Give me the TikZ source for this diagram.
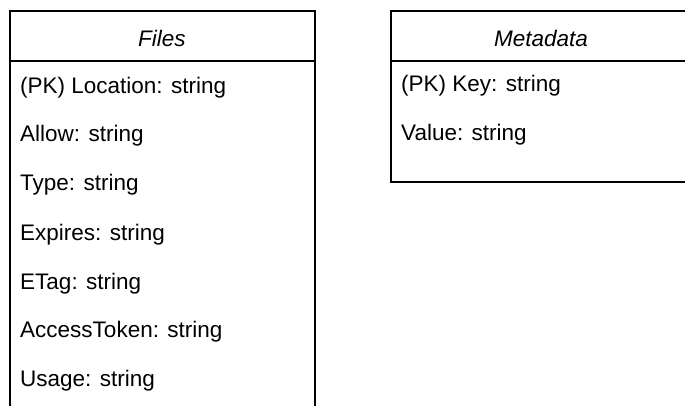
\documentclass[tikz,border=0pt]{standalone}
\usepackage{fontspec}
\setmainfont{Liberation Sans}
\begin{document}
\begin{tikzpicture}[x=1pt,y=-1pt,
  tablebox/.style={draw=black,line width=2pt},
  header/.style={font=\fontsize{22.5}{26}\selectfont\itshape,anchor=center,inner sep=0pt},
  field/.style={font=\fontsize{22.5}{26}\selectfont,anchor=west,inner sep=0pt}]
\useasboundingbox (0,0) rectangle (685,405);
% Files table (continues past the lower edge)
\draw[tablebox] (9.5,430) -- (9.5,11) -- (314.5,11) -- (314.5,430);
\draw[tablebox] (9.5,61) -- (314.5,61);
\node[header] (fh) at (162,38) {Files};
\node[field] (f1) at (20,88) {(PK) Location: string};
\node[field] (f2) at (20,136) {Allow: string};
\node[field] (f3) at (20,185) {Type: string};
\node[field] (f4) at (20,235) {Expires: string};
\node[field] (f5) at (20,284) {ETag: string};
\node[field] (f6) at (20,332) {AccessToken: string};
\node[field] (f7) at (20,381) {Usage: string};
% Metadata table (continues past the right edge)
\draw[tablebox] (700,11) -- (390.5,11) -- (390.5,182) -- (700,182);
\draw[tablebox] (390.5,61) -- (700,61);
\node[header] (mh) at (541,38) {Metadata};
\node[field] (m1) at (401,86) {(PK) Key: string};
\node[field] (m2) at (401,135) {Value: string};
\end{tikzpicture}
\end{document}
